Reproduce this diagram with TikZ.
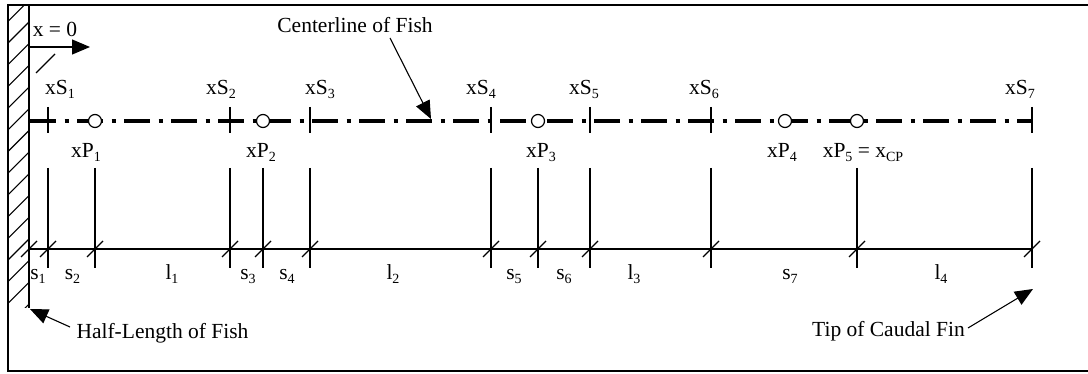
\documentclass[tikz,border=0pt]{standalone}
\usepackage{fontspec}
\setmainfont{Liberation Serif}
\usetikzlibrary{arrows.meta}
\newcommand{\sbx}[1]{\raisebox{-0.35ex}{\fontsize{14}{14}\selectfont #1}}
\begin{document}
\begin{tikzpicture}[x=1pt,y=-1pt,
  lbl/.style={inner sep=0pt, anchor=base, font=\fontsize{21.5}{26}\selectfont},
  thinln/.style={line width=1.1pt},
  bigarrow/.style={line width=1.1pt, -{Triangle[length=18pt,width=15pt]}},
  stick/.style={line width=1.1pt},
  pcirc/.style={circle, draw, line width=1.2pt, fill=white, minimum size=13pt, inner sep=0pt},
  cline/.style={line width=3.6pt, dash pattern=on 26pt off 8.5pt on 4pt off 8.5pt}]
\useasboundingbox (0,0) rectangle (1088,374);
\fill[white] (0,0) rectangle (1088,374);
% frame
\draw[line width=2.2pt] (1095,5) -- (8,5) -- (8,371) -- (1095,371);
% wall with hatching
\begin{scope}
  \clip (8,5) rectangle (29,308);
  \foreach \k in {-1,...,13} {
    \draw[thinln] (8,{22+21.7*\k+21}) -- (29,{22+21.7*\k});
  }
\end{scope}
\draw[line width=1.5pt] (29,5) -- (29,308);
\draw[thinln] (36,73) -- (55,54);
% x = 0
\node[lbl] (x0) at (55,37) {x = 0};
\coordinate (x0s) at (29,47);
\coordinate (x0e) at (90,47);
\draw[bigarrow] (x0s) -- (x0e);
% centerline
\coordinate (cl0) at (30,121);
\coordinate (cl1) at (1032,121);
\draw[cline] (cl0) -- (cl1);
% S stations
\foreach \n/\x/\lx in {1/48/60, 2/230/221, 3/310/320, 4/491/481, 5/590/584, 6/711/704, 7/1032/1020} {
  \coordinate (S\n) at (\x,121);
  \draw[stick] (\x,107) -- (\x,133);
  \node[lbl] (lS\n) at (\lx,95) {xS\sbx{\n}};
}
% P stations
\foreach \n/\x in {1/95, 2/263, 3/538, 4/785, 5/857} {
  \node[pcirc] (P\n) at (\x,121) {};
}
\node[lbl] (lP1) at (86,158) {xP\sbx{1}};
\node[lbl] (lP2) at (261,158) {xP\sbx{2}};
\node[lbl] (lP3) at (541,158) {xP\sbx{3}};
\node[lbl] (lP4) at (782,158) {xP\sbx{4}};
\node[lbl] (lP5) at (863,158) {xP\sbx{5} = x\sbx{CP}};
% dimension line
\coordinate (d0) at (29,249);
\coordinate (d1) at (1033,249);
\draw[thinln] (d0) -- (d1);
\draw[thinln] (21,257) -- (37,241);
\foreach \x in {48,95,230,263,310,491,538,590,711,857,1032} {
  \draw[thinln] (\x,168) -- (\x,268);
  \draw[thinln] ({\x-8},257) -- ({\x+8},241);
}
% dimension labels
\foreach \nm/\t/\x in {a/s\sbx{1}/38, b/s\sbx{2}/72.5, c/l\sbx{1}/172, d/s\sbx{3}/248, e/s\sbx{4}/287, f/l\sbx{2}/393, g/s\sbx{5}/514, h/s\sbx{6}/564, i/l\sbx{3}/634, j/s\sbx{7}/790, k/l\sbx{4}/941} {
  \node[lbl] (dl\nm) at (\x,280) {\t};
}
% annotations
\node[lbl] (cl) at (355,33) {Centerline of Fish};
\coordinate (cls) at (390,38);
\coordinate (cle) at (431,119);
\draw[bigarrow] (cls) -- (cle);
\node[lbl] (hl) at (162.5,338) {Half-Length of Fish};
\coordinate (hls) at (70,327);
\coordinate (hle) at (30,309);
\draw[bigarrow] (hls) -- (hle);
\node[lbl] (tc) at (888.5,337) {Tip of Caudal Fin};
\coordinate (tcs) at (968,328);
\coordinate (tce) at (1033,289);
\draw[bigarrow] (tcs) -- (tce);
\end{tikzpicture}
\end{document}
